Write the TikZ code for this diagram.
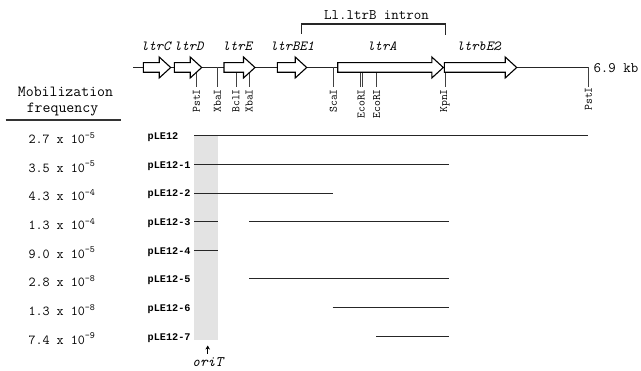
\documentclass[tikz,border=0pt]{standalone}
\usepackage{fontspec}
\newfontfamily\plfont{Liberation Mono}
\usetikzlibrary{arrows.meta}
\newcommand{\genearrow}[2]{\draw[genebox] (#1,62.7) -- ({#2-11.5},62.7) -- ({#2-11.5},57) -- (#2,67.5) -- ({#2-11.5},78) -- ({#2-11.5},72.3) -- (#1,72.3) -- cycle;}
\begin{document}
\begin{tikzpicture}[x=1pt,y=-1pt,
  genelbl/.style={font=\ttfamily\itshape\fontsize{13.9}{15}\selectfont, inner sep=0},
  sitelbl/.style={font=\ttfamily\fontsize{11.4}{12}\selectfont, rotate=90, anchor=east, inner sep=0},
  freq/.style={font=\ttfamily\fontsize{13.7}{15}\selectfont, inner sep=0, anchor=west},
  plabel/.style={font=\plfont\bfseries\fontsize{10.2}{12}\selectfont, inner sep=0, anchor=west},
  toptext/.style={font=\ttfamily\fontsize{14.5}{15}\selectfont, inner sep=0},
  head/.style={font=\ttfamily\fontsize{15.4}{16}\selectfont, inner sep=0, anchor=base},
  dna/.style={line width=1.1pt, black!85},
  genebox/.style={draw=black, line width=1.1pt, fill=white, line join=miter},
  site/.style={line width=0.8pt, black!75},
  construct/.style={line width=1.1pt, black!85}]
\useasboundingbox (0,0) rectangle (641,371);
% gray oriT band
\fill[black!11] (194.3,135.7) rectangle (218.3,340);
% main DNA line
\coordinate (L0) at (133,67.5);
\coordinate (L1) at (588.3,67.5);
\draw[dna] (L0) -- (L1);
% restriction sites
\foreach \x/\n in {196.5/s1, 217.3/s2, 236/s3, 249.3/s4, 333.3/s5, 360/s6, 362.3/s7, 376.7/s8, 445/s9, 588.3/s10}{
  \coordinate (\n a) at (\x,67.5);
  \coordinate (\n b) at (\x,87.5);
  \draw[site] (\n a) -- (\n b);
}
\node[sitelbl] (t1) at (196.5,89) {PstI};
\node[sitelbl] (t2) at (217.3,89) {XbaI};
\node[sitelbl] (t3) at (236,89) {BclI};
\node[sitelbl] (t4) at (249.3,89) {XbaI};
\node[sitelbl] (t5) at (333.3,89) {ScaI};
\node[sitelbl] (t6) at (361.2,89) {EcoRI};
\node[sitelbl] (t7) at (376.7,89) {EcoRI};
\node[sitelbl] (t8) at (445,89) {KpnI};
\node[sitelbl] (t9) at (588.3,87) {PstI};
% genes
\genearrow{143.3}{170.7}
\genearrow{174.3}{201.7}
\genearrow{224}{255}
\genearrow{277.3}{306.7}
\genearrow{337.7}{443.3}
\genearrow{444.3}{516.7}
\node[genelbl] (gC) at (155.8,46) {ltrC};
\node[genelbl] (gD) at (188.8,46) {ltrD};
\node[genelbl] (gE) at (237.3,46) {ltrE};
\node[genelbl] (gBE1) at (292.2,46) {ltrBE1};
\node[genelbl] (gA) at (382,46) {ltrA};
\node[genelbl] (gbE2) at (478.7,46) {ltrbE2};
% intron bracket
\coordinate (b1) at (301.7,34);
\coordinate (b2) at (301.7,24);
\coordinate (b3) at (445.7,24);
\coordinate (b4) at (445.7,35);
\draw[line width=1.1pt, black!85] (b1) -- (b2) -- (b3) -- (b4);
\node[toptext] (intron) at (376.5,15.5) {Ll.ltrB intron};
\node[toptext, anchor=west] (kb) at (593.3,68.5) {6.9 kb};
% left header
\node[head] (h1) at (65.5,96.3) {Mobilization};
\node[head] (h2) at (62.5,112.3) {frequency};
\coordinate (r1) at (5.7,120);
\coordinate (r2) at (120.7,120);
\draw[line width=1.2pt, black!80] (r1) -- (r2);
% frequencies
\node[freq] (f0) at (28.3,138) {2.7 x 10\textsuperscript{-5}};
\node[freq] (f1) at (28.3,166.6) {3.5 x 10\textsuperscript{-5}};
\node[freq] (f2) at (28.3,195.3) {4.3 x 10\textsuperscript{-4}};
\node[freq] (f3) at (28.3,223.9) {1.3 x 10\textsuperscript{-4}};
\node[freq] (f4) at (28.3,252.6) {9.0 x 10\textsuperscript{-5}};
\node[freq] (f5) at (28.3,281.2) {2.8 x 10\textsuperscript{-8}};
\node[freq] (f6) at (28.3,309.9) {1.3 x 10\textsuperscript{-8}};
\node[freq] (f7) at (28.3,338.5) {7.4 x 10\textsuperscript{-9}};
% construct labels
\node[plabel] (p0) at (147.5,137.2) {pLE12};
\node[plabel] (p1) at (147.5,165.8) {pLE12-1};
\node[plabel] (p2) at (147.5,194.5) {pLE12-2};
\node[plabel] (p3) at (147.5,223.1) {pLE12-3};
\node[plabel] (p4) at (147.5,251.8) {pLE12-4};
\node[plabel] (p5) at (147.5,280.4) {pLE12-5};
\node[plabel] (p6) at (147.5,309.1) {pLE12-6};
\node[plabel] (p7) at (147.5,337.7) {pLE12-7};
% construct lines
\coordinate (c0a) at (194.3,135.7);   \coordinate (c0b) at (588,135.7);
\coordinate (c1a) at (194.3,164.35);  \coordinate (c1b) at (449,164.35);
\coordinate (c2a) at (194.3,193.2);   \coordinate (c2b) at (333.3,193.2);
\coordinate (c3a) at (194.3,221.65);  \coordinate (c3b) at (218.3,221.65);
\coordinate (c3c) at (249.3,221.65);  \coordinate (c3d) at (449,221.65);
\coordinate (c4a) at (194.3,250.3);   \coordinate (c4b) at (218.3,250.3);
\coordinate (c5a) at (249.3,278.95);  \coordinate (c5b) at (449,278.95);
\coordinate (c6a) at (332.7,307.6);   \coordinate (c6b) at (449,307.6);
\coordinate (c7a) at (376,336.25);    \coordinate (c7b) at (449,336.25);
\draw[construct] (c0a) -- (c0b);
\draw[construct] (c1a) -- (c1b);
\draw[construct] (c2a) -- (c2b);
\draw[construct] (c3a) -- (c3b);
\draw[construct] (c3c) -- (c3d);
\draw[construct] (c4a) -- (c4b);
\draw[construct] (c5a) -- (c5b);
\draw[construct] (c6a) -- (c6b);
\draw[construct] (c7a) -- (c7b);
% oriT
\node[font=\ttfamily\itshape\fontsize{14.5}{15}\selectfont, inner sep=0] (oriT) at (207.7,362) {oriT};
\coordinate (oa) at (207.7,354);
\coordinate (ob) at (207.7,345.5);
\draw[line width=1.3pt, -{Stealth[length=4pt,width=4.5pt]}] (oa) -- (ob);
\end{tikzpicture}
\end{document}
